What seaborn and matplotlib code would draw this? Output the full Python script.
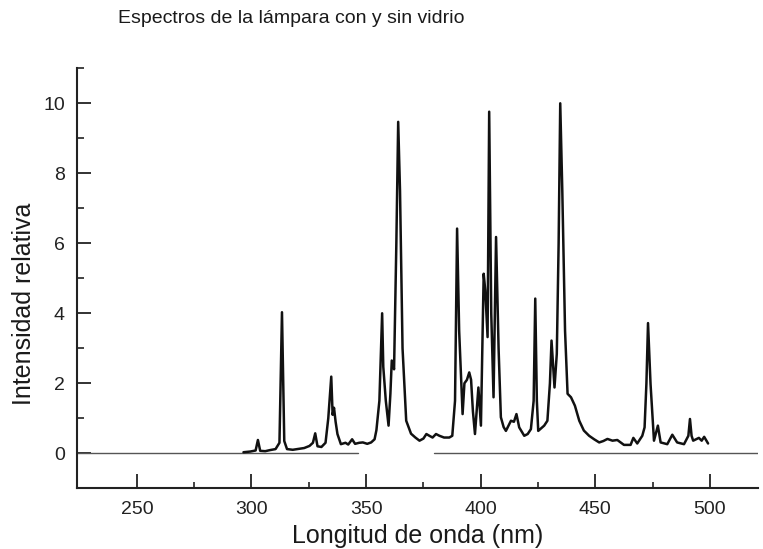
import numpy as np
import pandas as pd
import matplotlib
matplotlib.use("Agg")
import matplotlib.pyplot as plt
from matplotlib.ticker import FixedLocator, MultipleLocator
import seaborn as sns

# Spectrum of the lamp without glass (wavelength in nm, relative intensity)
wavelength_nm = [
    296.5, 299.5, 301.8, 302.8, 303.8, 306.0, 308.0, 310.5, 312.2, 313.3,
    314.3, 315.5, 318.0, 320.0, 323.0, 325.3, 326.8, 327.8, 328.8, 330.5,
    332.3, 333.5, 334.8, 335.4, 336.0, 336.7, 337.5, 339.0, 341.0, 342.2,
    343.9, 345.2, 347.0, 348.6, 350.5, 352.2, 353.7, 354.5, 355.8, 357.0,
    357.5, 358.6, 359.8, 360.6, 361.2, 362.2, 363.2, 364.0, 364.8, 365.9,
    367.5, 369.6, 371.5, 373.3, 375.0, 376.3, 377.6, 379.0, 380.5, 382.0,
    384.0, 386.3, 387.6, 388.8, 389.7, 390.6, 392.1, 392.9, 394.0, 395.0,
    395.8, 396.6, 397.5, 399.0, 400.1, 401.3, 402.0, 403.0, 403.7, 404.6,
    405.6, 406.7, 407.8, 408.8, 410.0, 411.0, 412.2, 413.2, 414.5, 415.6,
    416.8, 419.0, 420.5, 421.9, 423.1, 423.8, 424.5, 425.1, 427.7, 429.1,
    430.2, 430.9, 432.2, 433.2, 434.0, 434.7, 435.6, 436.8, 437.9, 439.4,
    441.1, 443.0, 445.0, 447.3, 449.5, 451.7, 453.5, 455.3, 457.5, 459.6,
    462.5, 465.4, 466.6, 468.3, 470.5, 471.5, 472.3, 473.0, 474.1, 475.6,
    477.3, 478.5, 481.4, 483.6, 485.7, 488.7, 490.6, 491.3, 492.0, 492.7,
    495.2, 496.4, 497.5, 499.2,
]
intensity = [
    0.03, 0.05, 0.08, 0.38, 0.07, 0.06, 0.09, 0.12, 0.30, 4.03,
    0.35, 0.12, 0.10, 0.12, 0.15, 0.21, 0.30, 0.57, 0.20, 0.18,
    0.30, 1.00, 2.19, 1.10, 1.30, 0.90, 0.55, 0.26, 0.30, 0.25,
    0.40, 0.27, 0.30, 0.31, 0.27, 0.31, 0.40, 0.66, 1.50, 4.00,
    2.47, 1.50, 0.79, 1.70, 2.65, 2.40, 6.00, 9.47, 7.50, 3.00,
    0.93, 0.56, 0.45, 0.36, 0.42, 0.55, 0.50, 0.45, 0.55, 0.50,
    0.45, 0.45, 0.50, 1.50, 6.42, 3.50, 1.12, 2.00, 2.10, 2.31,
    2.10, 1.20, 0.55, 1.88, 0.79, 5.13, 4.65, 3.32, 9.76, 4.00,
    1.60, 6.18, 3.00, 1.03, 0.75, 0.64, 0.80, 0.93, 0.90, 1.12,
    0.74, 0.50, 0.55, 0.69, 1.50, 4.42, 1.50, 0.64, 0.79, 0.93,
    2.00, 3.22, 1.88, 2.84, 6.00, 10.00, 7.50, 3.50, 1.70, 1.60,
    1.36, 0.93, 0.65, 0.50, 0.40, 0.31, 0.35, 0.41, 0.36, 0.38,
    0.24, 0.24, 0.44, 0.28, 0.50, 0.74, 2.00, 3.72, 1.98, 0.36,
    0.79, 0.31, 0.26, 0.53, 0.31, 0.26, 0.50, 0.98, 0.50, 0.36,
    0.44, 0.36, 0.47, 0.28,
]

# Spectrum with glass: flat at zero, measured in two ranges
glass_segment = ["a", "a", "b", "b"]
glass_nm = [224.0, 346.3, 379.8, 521.0]
glass_intensity = [0.0, 0.0, 0.0, 0.0]

x_major = [250, 300, 350, 400, 450, 500]
x_minor = [275, 325, 375, 425, 475]
y_major = [0, 2, 4, 6, 8, 10]

sns.set_style("ticks")
plt.rcParams["font.family"] = ["Liberation Sans", "DejaVu Sans"]

fig = plt.figure(figsize=(7.63, 5.49), dpi=100)
ax = fig.add_axes([0.1013, 0.1106, 0.8922, 0.7650])

glass_df = pd.DataFrame({"nm": glass_nm, "val": glass_intensity, "seg": glass_segment})
sns.lineplot(data=glass_df, x="nm", y="val", units="seg", estimator=None,
             color="#555555", linewidth=1.0, ax=ax)

lamp_df = pd.DataFrame({"nm": wavelength_nm, "val": intensity})
sns.lineplot(data=lamp_df, x="nm", y="val", estimator=None, sort=False,
             color="#111111", linewidth=1.8, ax=ax)

ax.set_xlim(224.0, 521.0)
ax.set_ylim(-1.0, 11.0)
ax.set_xticks(x_major)
ax.set_yticks(y_major)
ax.xaxis.set_minor_locator(FixedLocator(x_minor))
ax.yaxis.set_minor_locator(MultipleLocator(1))
ax.tick_params(which="major", direction="in", length=10, width=1.3,
               labelsize=14, pad=9, colors="#222222")
ax.tick_params(which="minor", direction="in", length=5, width=1.2, colors="#222222")
ax.tick_params(axis="x", which="minor", length=4)

for side in ("top", "right"):
    ax.spines[side].set_visible(False)
for side in ("left", "bottom"):
    ax.spines[side].set_linewidth(1.5)
    ax.spines[side].set_color("#222222")

ax.set_xlabel("Longitud de onda (nm)", fontsize=18, color="#1a1a1a")
ax.xaxis.set_label_coords(0.5, -0.085)
ax.set_ylabel("Intensidad relativa", fontsize=18, color="#1a1a1a")
ax.yaxis.set_label_coords(-0.060, 0.44)

fig.text(0.155, 1 - 10 / 549, "Espectros de la lámpara con y sin vidrio",
         fontsize=14, ha="left", va="top", color="#1a1a1a")

fig.savefig("out.png", dpi=100)
